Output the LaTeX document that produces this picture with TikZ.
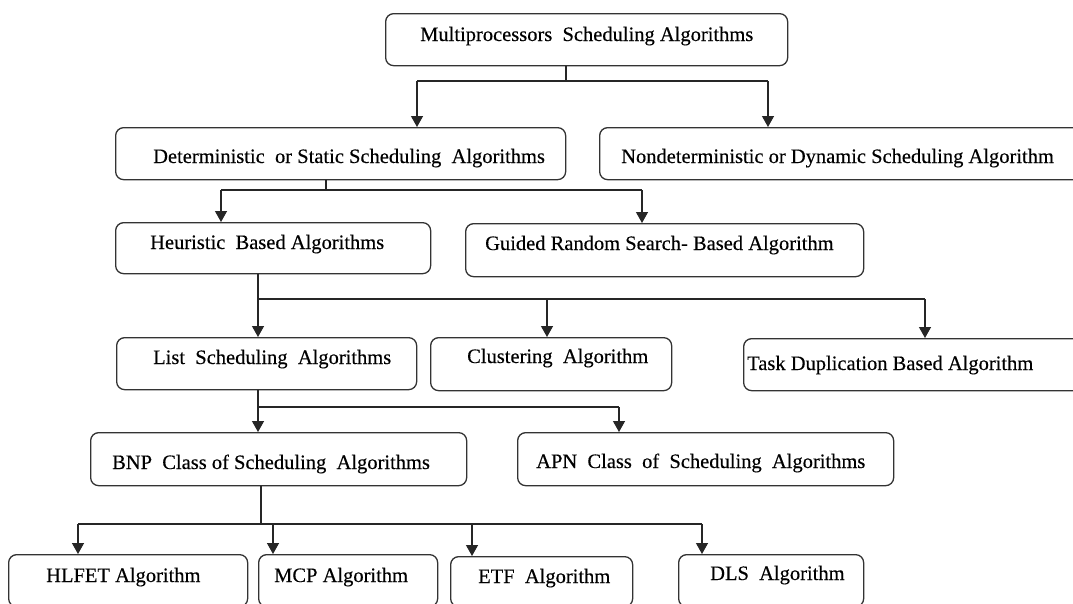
\documentclass[tikz,border=0pt]{standalone}
\usepackage{fontspec}
\setmainfont{Liberation Serif}[FakeBold=0.3]
\usetikzlibrary{arrows.meta}

\tikzset{
  box/.style={draw=black!80, line width=1.3pt, rounded corners=8pt, fill=white,
              inner sep=0pt, anchor=north west},
  lbl/.style={anchor=base west, inner sep=0pt, text=black,
              font=\fontsize{20.5}{24}\selectfont},
  wire/.style={draw=black!85, line width=1.3pt},
  arr/.style={wire, -{Triangle[length=11pt,width=12pt]}}
}

% box given by its top-left corner and size (in pixels of the drawing)
\newcommand{\boxat}[5]{%
  \node[box, minimum width=#4pt, minimum height=#5pt] (#1) at (#2,#3) {};}

\begin{document}
\begin{tikzpicture}[x=1pt,y=-1pt]
\useasboundingbox (0,0) rectangle (1073,603);
\clip (0,0) rectangle (1073,603);
\fill[white] (0,0) rectangle (1073,603);

% ---- boxes ----
\boxat{multi}{385}{13}{402}{52}
\boxat{det}{115}{127}{450}{52}
\boxat{nondet}{599}{127}{485}{52}
\boxat{heur}{115}{222}{315}{51}
\boxat{guided}{465}{223}{398}{53}
\boxat{list}{116}{337}{300}{52}
\boxat{clust}{430}{337}{241}{53}
\boxat{task}{743}{338}{340}{52}
\boxat{bnp}{90}{432}{376}{53}
\boxat{apn}{517}{432}{376}{53}
\boxat{hlfet}{8}{554}{239}{52}
\boxat{mcp}{258}{554}{179}{52}
\boxat{etf}{450}{556}{182}{50}
\boxat{dls}{678}{554}{185}{52}

% ---- labels ----
\node[lbl] (t-multi)  at (420,41)  {Multiprocessors\ \ Scheduling\ Algorithms};
\node[lbl] (t-det)    at (153,163) {Deterministic\ \ or\ Static Scheduling\ \ Algorithms};
\node[lbl] (t-nondet) at (621,163) {Nondeterministic\ or Dynamic Scheduling Algorithm};
\node[lbl] (t-heur)   at (150,249) {Heuristic\ \ Based Algorithms};
\node[lbl] (t-guided) at (485,250) {Guided Random Search- Based Algorithm};
\node[lbl] (t-list)   at (153,364) {List\ \ Scheduling\ \ Algorithms};
\node[lbl] (t-clust)  at (467,363) {Clustering\ \ Algorithm};
\node[lbl] (t-task)   at (747,370) {Task Duplication Based Algorithm};
\node[lbl] (t-bnp)    at (112,469) {BNP\ \ Class of Scheduling\ \ Algorithms};
\node[lbl] (t-apn)    at (536,468) {APN\ \ Class\ \ of\ \ Scheduling\ \ Algorithms};
\node[lbl] (t-hlfet)  at (46,582)  {HLFET Algorithm};
\node[lbl] (t-mcp)    at (274,582) {MCP Algorithm};
\node[lbl] (t-etf)    at (478,583) {ETF\ \ Algorithm};
\node[lbl] (t-dls)    at (710,580) {DLS\ \ Algorithm};

% ---- junction points of the connector buses ----
\coordinate (m-j) at (566,81);
\coordinate (m-l) at (417,81);
\coordinate (m-r) at (768,81);

\coordinate (d-j) at (326,190);
\coordinate (d-l) at (221,190);
\coordinate (d-r) at (642,190);

\coordinate (h-j) at (258,299);
\coordinate (h-m) at (547,299);
\coordinate (h-r) at (925,299);

\coordinate (l-j) at (258,407);
\coordinate (l-r) at (619,407);

\coordinate (b-j) at (261,524);
\coordinate (b-1) at (78,524);
\coordinate (b-2) at (273,524);
\coordinate (b-3) at (472,524);
\coordinate (b-4) at (702,524);

% ---- connectors ----
\draw[wire] (m-j |- multi.south) -- (m-j);
\draw[wire] (m-l) -- (m-r);
\draw[arr] (m-l) -- (m-l |- det.north);
\draw[arr] (m-r) -- (m-r |- nondet.north);

\draw[wire] (d-j |- det.south) -- (d-j);
\draw[wire] (d-l) -- (d-r);
\draw[arr] (d-l) -- (d-l |- heur.north);
\draw[arr] (d-r) -- (d-r |- guided.north);

\draw[wire] (h-j |- heur.south) -- (h-j);
\draw[wire] (h-j) -- (h-r);
\draw[arr] (h-j) -- (h-j |- list.north);
\draw[arr] (h-m) -- (h-m |- clust.north);
\draw[arr] (h-r) -- (h-r |- task.north);

\draw[wire] (l-j |- list.south) -- (l-j);
\draw[wire] (l-j) -- (l-r);
\draw[arr] (l-j) -- (l-j |- bnp.north);
\draw[arr] (l-r) -- (l-r |- apn.north);

\draw[wire] (b-j |- bnp.south) -- (b-j);
\draw[wire] (b-1) -- (b-4);
\draw[arr] (b-1) -- (b-1 |- hlfet.north);
\draw[arr] (b-2) -- (b-2 |- mcp.north);
\draw[arr] (b-3) -- (b-3 |- etf.north);
\draw[arr] (b-4) -- (b-4 |- dls.north);
\end{tikzpicture}
\end{document}
